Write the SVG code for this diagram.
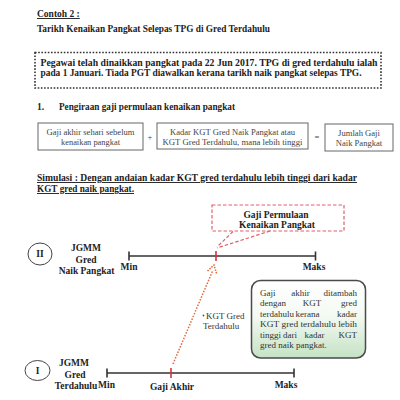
<svg xmlns="http://www.w3.org/2000/svg" width="400" height="400" viewBox="0 0 400 400">
<defs>
<style>
text{font-family:"Liberation Serif","Times New Roman","DejaVu Serif",serif}
.b{font-weight:bold;fill:#222;font-size:9.5px}
.r{fill:#444;font-size:8.6px}
.g{fill:#333;font-size:9px}
.e{text-anchor:end}
.m{text-anchor:middle}
.box{fill:#fff;stroke:#666;stroke-width:1}
.tl{stroke:#333;stroke-width:1.6;fill:none}
.red{stroke:#d8323c;stroke-width:1.6}
.rd{fill:none;stroke:#e0606a;stroke-width:1.2;stroke-dasharray:3.5 2}
</style>
<linearGradient id="gg" x1="0" y1="0" x2="0" y2="1">
<stop offset="0" stop-color="#ffffff"/>
<stop offset="0.45" stop-color="#f4faf3"/>
<stop offset="1" stop-color="#c5e2c4"/>
</linearGradient>
</defs>
<rect width="400" height="400" fill="#fff"/>

<g id="header">
<text class="b" x="37" y="17" text-decoration="underline">Contoh 2 :</text>
<text class="b" x="37" y="32" textLength="233" lengthAdjust="spacingAndGlyphs">Tarikh Kenaikan Pangkat Selepas TPG di Gred Terdahulu</text>
</g>

<g id="note">
<rect x="35" y="52.5" width="346" height="35.5" fill="none" stroke="#333" stroke-width="1.6" stroke-dasharray="1.6 1.6"/>
<text class="b" x="40.5" y="65.5" textLength="337" lengthAdjust="spacingAndGlyphs">Pegawai telah dinaikkan pangkat pada 22 Jun 2017. TPG di gred terdahulu ialah</text>
<text class="b" x="40.5" y="76" textLength="321" lengthAdjust="spacingAndGlyphs">pada 1 Januari. Tiada PGT diawalkan kerana tarikh naik pangkat selepas TPG.</text>
</g>

<g id="section1">
<text class="b" x="37" y="110">1.</text>
<text class="b" x="59" y="110" textLength="176" lengthAdjust="spacingAndGlyphs">Pengiraan gaji permulaan kenaikan pangkat</text>
</g>

<g id="box-gaji-akhir">
<rect class="box" x="38" y="123" width="105" height="27"/>
<text class="r m" x="90.5" y="134.5" textLength="88" lengthAdjust="spacingAndGlyphs">Gaji akhir sehari sebelum</text>
<text class="r m" x="90.5" y="145" textLength="59" lengthAdjust="spacingAndGlyphs">kenaikan pangkat</text>
</g>
<text class="r m" x="150" y="140" font-size="8">+</text>
<g id="box-kadar">
<rect class="box" x="157" y="123" width="151" height="26"/>
<text class="r m" x="232.5" y="134.5" textLength="125" lengthAdjust="spacingAndGlyphs">Kadar KGT Gred Naik Pangkat atau</text>
<text class="r m" x="232.5" y="145" textLength="140" lengthAdjust="spacingAndGlyphs">KGT Gred Terdahulu, mana lebih tinggi</text>
</g>
<text class="r m" x="317" y="140" font-size="8">=</text>
<g id="box-jumlah">
<rect class="box" x="325" y="124" width="68" height="27"/>
<text class="r m" x="359" y="135.5">Jumlah Gaji</text>
<text class="r m" x="359" y="146">Naik Pangkat</text>
</g>

<g id="simulasi">
<text class="b" x="37" y="181" textLength="320" lengthAdjust="spacingAndGlyphs" text-decoration="underline">Simulasi : Dengan andaian kadar KGT gred terdahulu lebih tinggi dari kadar</text>
<text class="b" x="37" y="192" textLength="97" lengthAdjust="spacingAndGlyphs" text-decoration="underline">KGT gred naik pangkat.</text>
</g>

<g id="connectors">
<line class="rd" x1="233" y1="231.5" x2="217" y2="247"/>
<line class="rd" x1="270" y1="231" x2="217" y2="248"/>
<line x1="173" y1="364" x2="213" y2="270" stroke="#e06a3a" stroke-width="1.5" stroke-dasharray="1.5 1.5"/>
<polyline points="207.5,271 214,265 216.5,273.5" fill="none" stroke="#e06a3a" stroke-width="1.5" stroke-dasharray="1.5 1.2"/>
</g>

<g id="label-permulaan">
<rect class="rd" x="212" y="205" width="132" height="26"/>
<text class="b m" x="276" y="218" font-size="9">Gaji Permulaan</text>
<text class="b m" x="277" y="228" font-size="9">Kenaikan Pangkat</text>
</g>

<g id="grade-II">
<ellipse cx="40" cy="254" rx="12" ry="11" fill="#fff" stroke="#444" stroke-width="1"/>
<text class="b m" x="40" y="257" font-size="8">II</text>
<text class="b m" x="86" y="251" font-size="9">JGMM</text>
<text class="b m" x="86" y="262.5" font-size="9">Gred</text>
<text class="b m" x="86.5" y="274" font-size="9">Naik Pangkat</text>
<line class="tl" x1="129" y1="256" x2="315.5" y2="256"/>
<line class="tl" x1="129" y1="251.5" x2="129" y2="260.5"/>
<line class="tl" x1="315.5" y1="251.5" x2="315.5" y2="260.5"/>
<line class="red" x1="216" y1="251" x2="216" y2="261"/>
<text class="b m" x="129" y="269.5" font-size="9">Min</text>
<text class="b m" x="314" y="269.5" font-size="9">Maks</text>
</g>

<g id="label-kgt">
<circle cx="203.5" cy="315.5" r="0.9" fill="#555"/>
<text class="g" x="206" y="318.5">KGT Gred</text>
<text class="g" x="203" y="329">Terdahulu</text>
</g>

<g id="note-green">
<rect x="251.5" y="280.5" width="114" height="77.5" rx="9" fill="url(#gg)" stroke="#4a4a4a" stroke-width="1.5"/>
<text class="g" x="260" y="295.5">Gaji</text>
<text class="g m" x="300.5" y="295.5">akhir</text>
<text class="g e" x="357" y="295.5">ditambah</text>
<text class="g" x="260" y="306">dengan</text>
<text class="g m" x="312" y="306">KGT</text>
<text class="g e" x="357" y="306">gred</text>
<text class="g" x="260" y="316.5">terdahulu</text>
<text class="g m" x="307.5" y="316.5">kerana</text>
<text class="g e" x="357" y="316.5">kadar</text>
<text class="g" x="260" y="327" textLength="97" lengthAdjust="spacingAndGlyphs">KGT gred terdahulu lebih</text>
<text class="g" x="260" y="337.5">tinggi</text>
<text class="g m" x="290" y="337.5">dari</text>
<text class="g m" x="314.5" y="337.5">kadar</text>
<text class="g e" x="357" y="337.5">KGT</text>
<text class="g" x="260" y="348">gred naik pangkat.</text>
</g>

<g id="grade-I">
<ellipse cx="37.5" cy="370.5" rx="12.5" ry="10" fill="#fff" stroke="#444" stroke-width="1"/>
<text class="b m" x="37.5" y="373.5" font-size="8">I</text>
<text class="b m" x="74" y="366" font-size="9">JGMM</text>
<text class="b m" x="75" y="377.5" font-size="9">Gred</text>
<text class="b m" x="76" y="389" font-size="9">Terdahulu</text>
<line class="tl" x1="107" y1="373" x2="294" y2="373"/>
<line class="tl" x1="107" y1="368.5" x2="107" y2="377.5"/>
<line class="tl" x1="294" y1="368.5" x2="294" y2="377.5"/>
<line class="red" x1="171" y1="368" x2="171" y2="378"/>
<text class="b m" x="106.5" y="387.5" font-size="9">Min</text>
<text class="b m" x="172" y="389.5" font-size="9">Gaji Akhir</text>
<text class="b m" x="286" y="387.5" font-size="9">Maks</text>
</g>
</svg>
